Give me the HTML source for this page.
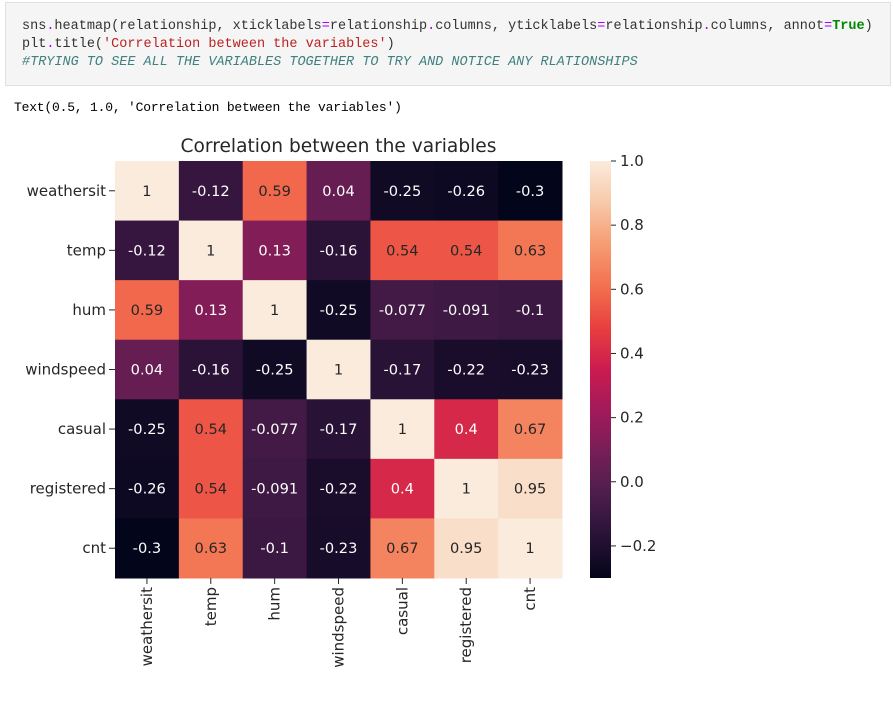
<!DOCTYPE html>
<html><head><meta charset="utf-8"><style>
body{margin:0;background:#fff;width:893px;height:704px;overflow:hidden;font-family:"DejaVu Sans","Liberation Sans",sans-serif}
.code{position:absolute;left:5px;top:2px;width:886px;height:84px;background:#f5f5f5;border:1px solid #e0e0e0;box-sizing:border-box;font-family:"Liberation Mono","Noto Sans CJK SC",monospace;font-size:13.5px;line-height:18px;padding:15px 0 0 16px;color:#333;letter-spacing:0px}
.out{position:absolute;left:14px;top:100px;font-family:"Liberation Mono","Noto Sans CJK SC",monospace;font-size:13px;color:#000;letter-spacing:-0.2px}
</style></head><body>
<div class="code">
<div>sns<span style="color:#a0f">.</span>heatmap(relationship, xticklabels<span style="color:#a0f">=</span>relationship<span style="color:#a0f">.</span>columns, yticklabels<span style="color:#a0f">=</span>relationship<span style="color:#a0f">.</span>columns, annot<span style="color:#a0f">=</span><b style="color:#080">True</b>)</div>
<div>plt<span style="color:#a0f">.</span>title(<span style="color:#b22">'Correlation between the variables'</span>)</div>
<div style="color:#408080;font-style:italic">#TRYING TO SEE ALL THE VARIABLES TOGETHER TO TRY AND NOTICE ANY RLATIONSHIPS</div>
</div>
<div class="out">Text(0.5, 1.0, 'Correlation between the variables')</div>
<svg id="chart" width="893" height="704" style="position:absolute;left:0;top:0"></svg>
<script>
const labels=["weathersit","temp","hum","windspeed","casual","registered","cnt"];
const row0=[1,-0.12,0.59,0.04,-0.25,-0.26,-0.3];
const row1=[-0.12,1,0.13,-0.16,0.54,0.54,0.63];
const row2=[0.59,0.13,1,-0.25,-0.077,-0.091,-0.1];
const row3=[0.04,-0.16,-0.25,1,-0.17,-0.22,-0.23];
const row4=[-0.25,0.54,-0.077,-0.17,1,0.4,0.67];
const row5=[-0.26,0.54,-0.091,-0.22,0.4,1,0.95];
const row6=[-0.3,0.63,-0.1,-0.23,0.67,0.95,1];
const cbTicks=[1.0,0.8,0.6,0.4,0.2,0.0,-0.2];
const rows=[row0,row1,row2,row3,row4,row5,row6];
const vmin=-0.3,vmax=1.0;
const X0=115,X1=562,Y0=161,Y1=578;
const svg=document.getElementById('chart');const NS='http://www.w3.org/2000/svg';
function mk(t,a,txt){const e=document.createElementNS(NS,t);for(const k in a)e.setAttribute(k,a[k]);if(txt!==undefined)e.textContent=txt;svg.appendChild(e);return e;}
const stops=[[0,[3,5,26]],[0.1,[40,18,54]],[0.2,[76,29,75]],[0.3,[118,30,87]],[0.4,[161,26,91]],[0.5,[203,27,79]],[0.6,[232,63,63]],[0.7,[243,112,78]],[0.8,[246,156,115]],[0.9,[247,201,170]],[1,[250,235,221]]];
function cmap(v){let t=Math.max(0,Math.min(1,(v-vmin)/(vmax-vmin)));for(let i=1;i<stops.length;i++){if(t<=stops[i][0]){const a=stops[i-1],b=stops[i];const f=(t-a[0])/(b[0]-a[0]);const c=a[1].map((x,j)=>Math.round(x+(b[1][j]-x)*f));return c;}}return stops[stops.length-1][1];}
const n=labels.length,cw=(X1-X0)/n,ch=(Y1-Y0)/n;
const xs=i=>X0+i*cw, ys=i=>Y0+i*ch;
mk('text',{x:(X0+X1)/2,y:152,'text-anchor':'middle','font-size':'18.6','fill':'#262626'},'Correlation between the variables');
rows.forEach((r,i)=>r.forEach((v,j)=>{
 const c=cmap(v);
 const rc=mk('rect',{x:xs(j),y:ys(i),width:cw+0.5,height:ch+0.5,fill:`rgb(${c})`});
 
 
 const lum=(0.2126*c[0]+0.7152*c[1]+0.0722*c[2])/255;
 const t=mk('text',{x:xs(j)+cw/2,y:ys(i)+ch/2+5,'text-anchor':'middle','font-size':'14.6',fill:lum>0.408?'#262626':'#fff'},String(v));
 
 
}));
labels.forEach((l,i)=>{
 mk('line',{x1:X0-6,x2:X0,y1:ys(i)+ch/2,y2:ys(i)+ch/2,stroke:'#262626','stroke-width':1});
 const t=mk('text',{x:X0-9,y:ys(i)+ch/2+5,'text-anchor':'end','font-size':'15',fill:'#262626'},l);
 
 
 const cx=xs(i)+cw/2;
 mk('line',{x1:cx,x2:cx,y1:Y1,y2:Y1+6,stroke:'#262626','stroke-width':1});
 const tx=mk('text',{x:cx+5,y:Y1+9,'text-anchor':'end','font-size':'15',fill:'#262626',transform:`rotate(-90 ${cx+5} ${Y1+9})`},l);
 
 
});
const CX=590,CW=21;
const defs=mk('defs',{});const g=document.createElementNS(NS,'linearGradient');g.setAttribute('id','cb');g.setAttribute('x1','0');g.setAttribute('y1','1');g.setAttribute('x2','0');g.setAttribute('y2','0');defs.appendChild(g);
for(let k=0;k<=20;k++){const s=document.createElementNS(NS,'stop');s.setAttribute('offset',k/20);s.setAttribute('stop-color',`rgb(${cmap(vmin+(vmax-vmin)*k/20)})`);g.appendChild(s);}
const cb=mk('rect',{x:CX,y:Y0,width:CW,height:Y1-Y0,fill:'url(#cb)'});

const cy=v=>Y1-(v-vmin)/(vmax-vmin)*(Y1-Y0);
cbTicks.forEach(v=>{
 mk('line',{x1:CX+CW,x2:CX+CW+5,y1:cy(v),y2:cy(v),stroke:'#262626','stroke-width':1});
 const t=mk('text',{x:CX+CW+9,y:cy(v)+5,'font-size':'15',fill:'#262626'},(v<0?'\u2212':'')+Math.abs(v).toFixed(1));
 
 
});
</script>
</body></html>
